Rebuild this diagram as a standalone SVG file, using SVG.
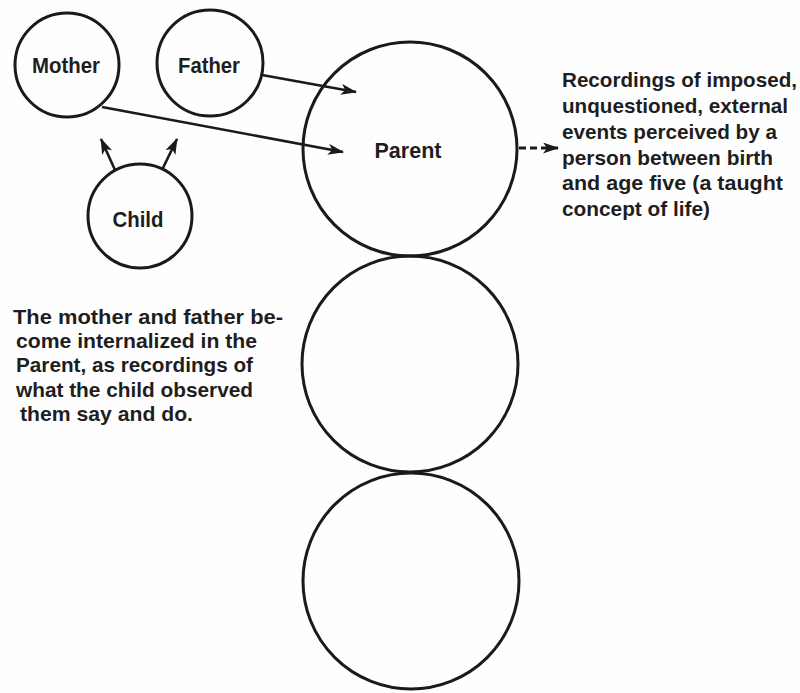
<svg xmlns="http://www.w3.org/2000/svg" width="800" height="693" viewBox="0 0 800 693">
  <defs>
    <style>
      .bg { fill: #fefefe; }
      .node { fill: none; stroke: #1a1a1a; stroke-width: 3; }
      .label { font-family: "Liberation Sans", Arial, sans-serif; font-weight: bold; font-size: 22px; fill: #1e1e1e; text-anchor: middle; }
      .note { font-family: "Liberation Sans", Arial, sans-serif; font-weight: bold; font-size: 21px; fill: #1e1e1e; }
      .link { fill: none; stroke: #1a1a1a; stroke-width: 2.6; }
      .dashed { stroke-width: 3; stroke-dasharray: 7 4; }
    </style>
    <marker id="head" viewBox="0 0 16 11" refX="15" refY="5.5" markerWidth="16" markerHeight="11" markerUnits="userSpaceOnUse" orient="auto">
      <path d="M0,0 L16,5.5 L0,11 L4,5.5 z" fill="#1a1a1a"/>
    </marker>
  </defs>

  <rect class="bg" x="0" y="0" width="800" height="693"/>

  <!-- connectors -->
  <g id="connectors">
    <line class="link" x1="262" y1="75" x2="356" y2="92" marker-end="url(#head)"/>
    <line class="link" x1="102" y1="107" x2="343" y2="152" marker-end="url(#head)"/>
    <line class="link" x1="115" y1="170" x2="101" y2="139" marker-end="url(#head)"/>
    <line class="link" x1="162" y1="170" x2="177" y2="139" marker-end="url(#head)"/>
    <line class="link dashed" x1="519" y1="148" x2="558" y2="148" marker-end="url(#head)"/>
  </g>

  <!-- nodes -->
  <g id="mother">
    <circle class="node" cx="67" cy="65" r="52"/>
    <text class="label" x="66" y="73" textLength="68" lengthAdjust="spacingAndGlyphs">Mother</text>
  </g>
  <g id="father">
    <circle class="node" cx="210" cy="63" r="53"/>
    <text class="label" x="209" y="73" textLength="62" lengthAdjust="spacingAndGlyphs">Father</text>
  </g>
  <g id="child">
    <circle class="node" cx="140" cy="216" r="52"/>
    <text class="label" x="138" y="227" textLength="51" lengthAdjust="spacingAndGlyphs">Child</text>
  </g>
  <g id="parent">
    <circle class="node" cx="410" cy="149" r="107"/>
    <text class="label" x="408" y="158" textLength="67" lengthAdjust="spacingAndGlyphs">Parent</text>
  </g>
  <g id="adult">
    <circle class="node" cx="410" cy="364" r="108"/>
  </g>
  <g id="child-state">
    <circle class="node" cx="411" cy="581" r="108"/>
  </g>

  <!-- description of the Parent recordings -->
  <g id="parent-note">
    <text class="note" x="562" y="87" textLength="235" lengthAdjust="spacingAndGlyphs">Recordings of imposed,</text>
    <text class="note" x="562" y="113" textLength="226" lengthAdjust="spacingAndGlyphs">unquestioned, external</text>
    <text class="note" x="562" y="139" textLength="215" lengthAdjust="spacingAndGlyphs">events perceived by a</text>
    <text class="note" x="562" y="165" textLength="211" lengthAdjust="spacingAndGlyphs">person between birth</text>
    <text class="note" x="562" y="190" textLength="221" lengthAdjust="spacingAndGlyphs">and age five (a taught</text>
    <text class="note" x="562" y="216" textLength="148" lengthAdjust="spacingAndGlyphs">concept of life)</text>
  </g>

  <!-- caption -->
  <g id="caption">
    <text class="note" x="13" y="324" textLength="270" lengthAdjust="spacingAndGlyphs">The mother and father be-</text>
    <text class="note" x="16" y="348" textLength="241" lengthAdjust="spacingAndGlyphs">come internalized in the</text>
    <text class="note" x="16" y="372" textLength="237" lengthAdjust="spacingAndGlyphs">Parent, as recordings of</text>
    <text class="note" x="16" y="397" textLength="237" lengthAdjust="spacingAndGlyphs">what the child observed</text>
    <text class="note" x="20" y="421" textLength="173" lengthAdjust="spacingAndGlyphs">them say and do.</text>
  </g>
</svg>
